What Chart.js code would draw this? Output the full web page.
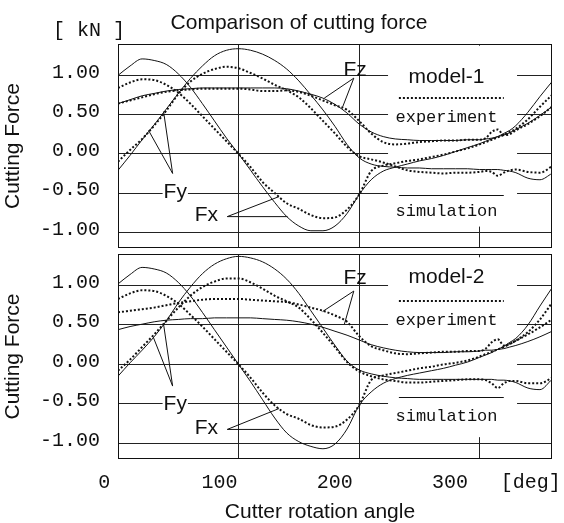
<!DOCTYPE html>
<html><head><meta charset="utf-8">
<script src="https://cdn.jsdelivr.net/npm/chart.js@4.4.1/dist/chart.umd.min.js"></script>
<style>
html,body{margin:0;padding:0;background:#fff;}
#wrap{position:relative;width:564px;height:523px;background:#fff;overflow:hidden}
#c1{position:absolute;left:0;top:0}
#c2{position:absolute;left:0;top:250px}
</style></head><body>
<div id="wrap"><canvas id="c1" width="564" height="250"></canvas><canvas id="c2" width="564" height="273"></canvas></div>
<script>
// cutter rotation angle [deg]
const angles = [0,10,20,30,40,50,60,70,80,90,100,110,120,130,140,150,160,170,180,190,200,210,220,230,240,250,260,270,280,290,300,305,310,315,320,325,330,340,350,360];

// model-1 (upper panel)
const m1FxSim = [1.00,1.12,1.21,1.19,1.14,1.02,0.85,0.64,0.42,0.20,0.00,-0.21,-0.42,-0.62,-0.80,-0.92,-0.98,-0.98,-0.92,-0.76,-0.52,-0.33,-0.22,-0.17,-0.13,-0.09,-0.06,-0.02,0.03,0.08,0.13,0.16,0.19,0.22,0.26,0.30,0.36,0.53,0.73,0.92];
const m1FxExp = [0.84,0.91,0.95,0.94,0.88,0.78,0.64,0.48,0.32,0.16,0.00,-0.17,-0.36,-0.50,-0.63,-0.70,-0.78,-0.82,-0.81,-0.71,-0.52,-0.22,-0.15,-0.12,-0.09,-0.07,-0.04,-0.01,0.03,0.07,0.12,0.15,0.18,0.21,0.24,0.28,0.32,0.44,0.60,0.75];
const m1FySim = [-0.21,-0.02,0.18,0.37,0.57,0.77,0.96,1.12,1.25,1.32,1.34,1.32,1.27,1.19,1.08,0.93,0.75,0.56,0.35,0.12,-0.05,-0.13,-0.16,-0.17,-0.18,-0.18,-0.19,-0.19,-0.19,-0.19,-0.20,-0.20,-0.20,-0.20,-0.21,-0.22,-0.24,-0.31,-0.33,-0.25];
const m1FyExp = [-0.10,0.05,0.19,0.36,0.55,0.76,0.92,1.02,1.08,1.11,1.09,1.03,0.96,0.88,0.81,0.72,0.58,0.42,0.26,0.09,-0.03,-0.07,-0.11,-0.16,-0.21,-0.23,-0.24,-0.25,-0.24,-0.24,-0.23,-0.22,-0.23,-0.28,-0.24,-0.21,-0.20,-0.23,-0.24,-0.16];
const m1FzSim = [0.64,0.69,0.74,0.77,0.80,0.82,0.83,0.84,0.84,0.84,0.84,0.84,0.84,0.84,0.83,0.80,0.76,0.71,0.63,0.52,0.38,0.28,0.22,0.19,0.18,0.17,0.17,0.17,0.17,0.18,0.18,0.19,0.20,0.22,0.24,0.27,0.31,0.39,0.49,0.60];
const m1FzExp = [0.64,0.68,0.72,0.76,0.79,0.81,0.82,0.83,0.83,0.83,0.83,0.82,0.80,0.80,0.81,0.79,0.74,0.68,0.62,0.56,0.42,0.26,0.15,0.12,0.13,0.15,0.16,0.17,0.17,0.18,0.18,0.20,0.28,0.31,0.24,0.25,0.30,0.38,0.48,0.60];

// model-2 (lower panel)
const m2FxSim = [1.02,1.14,1.23,1.21,1.16,1.04,0.87,0.66,0.44,0.22,0.00,-0.22,-0.45,-0.68,-0.87,-0.98,-1.04,-1.07,-1.01,-0.82,-0.52,-0.35,-0.24,-0.18,-0.14,-0.11,-0.08,-0.05,-0.01,0.03,0.09,0.12,0.15,0.19,0.23,0.28,0.33,0.50,0.74,0.97];
const m2FxExp = [0.83,0.90,0.94,0.93,0.87,0.77,0.63,0.48,0.32,0.16,0.00,-0.17,-0.36,-0.52,-0.63,-0.69,-0.77,-0.80,-0.79,-0.70,-0.52,-0.20,-0.14,-0.11,-0.08,-0.05,-0.03,0.00,0.02,0.05,0.10,0.13,0.16,0.19,0.22,0.26,0.30,0.41,0.57,0.78];
const m2FySim = [-0.15,0.02,0.18,0.35,0.55,0.78,0.98,1.15,1.27,1.34,1.37,1.35,1.30,1.21,1.08,0.90,0.68,0.46,0.24,0.04,-0.07,-0.12,-0.15,-0.17,-0.18,-0.19,-0.19,-0.19,-0.19,-0.19,-0.19,-0.19,-0.19,-0.20,-0.20,-0.21,-0.23,-0.30,-0.32,-0.19];
const m2FyExp = [-0.08,0.06,0.22,0.38,0.55,0.72,0.87,0.98,1.05,1.09,1.09,1.04,0.96,0.87,0.80,0.72,0.57,0.40,0.22,0.03,-0.09,-0.15,-0.19,-0.21,-0.23,-0.23,-0.22,-0.21,-0.20,-0.19,-0.19,-0.20,-0.24,-0.30,-0.24,-0.21,-0.21,-0.24,-0.24,-0.17];
const m2FzSim = [0.44,0.48,0.51,0.54,0.56,0.57,0.58,0.58,0.59,0.59,0.59,0.59,0.58,0.57,0.56,0.54,0.51,0.47,0.42,0.37,0.31,0.25,0.21,0.18,0.16,0.15,0.15,0.15,0.16,0.16,0.17,0.18,0.18,0.19,0.20,0.22,0.24,0.29,0.35,0.42];
const m2FzExp = [0.66,0.68,0.70,0.72,0.75,0.78,0.80,0.82,0.83,0.83,0.83,0.82,0.81,0.80,0.79,0.76,0.72,0.68,0.62,0.54,0.36,0.23,0.18,0.14,0.13,0.14,0.15,0.16,0.16,0.17,0.17,0.20,0.28,0.32,0.24,0.26,0.30,0.38,0.47,0.57];

// axis ticks
const yTicks = [-1, -0.5, 0, 0.5, 1];
const xGridTicks = [0, 100, 200, 300];
const xLabelTicks = [0, 100, 200, 300, 370];
const xUnitLabel = '[deg]';

const SANS = '"Liberation Sans", Arial, Helvetica, sans-serif';
const MONO = '"Liberation Mono", "Courier New", monospace';
const INK = '#111';

function pts(vals){ return vals.map((v,i)=>({x:angles[i], y:v})); }
function ds(label, vals, exp){
  return {label, data: pts(vals), borderColor: INK, borderWidth: exp ? 2 : 1,
    borderDash: exp ? [2,2] : [], pointRadius: 0, cubicInterpolationMode: 'monotone', fill: false};
}
function noPad(s){ s.paddingTop = 0; s.paddingBottom = 0; s.paddingLeft = 0; s.paddingRight = 0; }

const decor = {
  id: 'decor',
  beforeDatasetsDraw(chart, args, o){
    const {ctx, scales:{x, y}} = chart;
    const x0 = x.getPixelForValue(o.box[0]), x1 = x.getPixelForValue(o.box[1]);
    const y0 = y.getPixelForValue(o.box[2]), y1 = y.getPixelForValue(o.box[3]);
    ctx.save(); ctx.fillStyle = '#fff'; ctx.fillRect(x0, y0, x1-x0, y1-y0); ctx.restore();
  },
  afterDatasetsDraw(chart, args, o){
    const {ctx, chartArea:a, scales:{x, y}} = chart;
    const X = v => x.getPixelForValue(v), Y = v => y.getPixelForValue(v);
    ctx.save();
    ctx.strokeStyle = INK; ctx.lineWidth = 1; ctx.setLineDash([]);
    ctx.strokeRect(Math.round(a.left)+0.5, Math.round(a.top)+0.5, Math.round(a.width)-1, Math.round(a.height)-1);
    ctx.fillStyle = INK; ctx.textAlign = 'center'; ctx.textBaseline = 'middle';
    const L = o.legend;
    ctx.font = '21px ' + SANS; ctx.fillText(L.model, X(L.cx), Y(L.modelY));
    ctx.font = '17px ' + MONO;
    ctx.fillText('experiment', X(L.cx), Y(L.expY));
    ctx.fillText('simulation', X(L.cx), Y(L.simY));
    ctx.lineWidth = 2; ctx.setLineDash([2,2]);
    ctx.beginPath(); ctx.moveTo(X(L.x0), Math.round(Y(L.expLineY))); ctx.lineTo(X(L.x1), Math.round(Y(L.expLineY))); ctx.stroke();
    ctx.lineWidth = 1; ctx.setLineDash([]);
    ctx.beginPath(); ctx.moveTo(X(L.x0), Math.round(Y(L.simLineY))+0.5); ctx.lineTo(X(L.x1), Math.round(Y(L.simLineY))+0.5); ctx.stroke();
    ctx.font = '21px ' + SANS;
    for (const n of o.notes){
      const tx = X(n.at[0]), ty = Y(n.at[1]);
      if (n.bg){
        const w = ctx.measureText(n.text).width;
        ctx.fillStyle = '#fff'; ctx.fillRect(tx - w/2 - 1, ty - 9, w + 2, 18); ctx.fillStyle = INK;
      }
      ctx.fillText(n.text, tx, ty);
      ctx.beginPath();
      for (const e of n.ends){ ctx.moveTo(X(n.apex[0]), Y(n.apex[1])); ctx.lineTo(X(e[0]), Y(e[1])); }
      ctx.stroke();
    }
    ctx.restore();
  },
  afterDraw(chart, args, o){
    const ctx = chart.ctx;
    ctx.save(); ctx.fillStyle = INK; ctx.textAlign = 'center'; ctx.textBaseline = 'middle';
    if (o.head){
      ctx.font = '21px ' + SANS; ctx.fillText('Comparison of cutting force', 299, 23);
      ctx.font = '20px ' + MONO; ctx.fillText('[ kN ]', 89, 31);
    }
    if (o.xTitle){
      ctx.font = '21px ' + SANS; ctx.fillText(o.xTitle, 320, 262);
    }
    ctx.restore();
  }
};

function makeChart(id, sets, withXLabels, decorOpts, padTop, padBottom){
  const scales = {
    x: { type: 'linear', min: 0, max: 360,
      afterBuildTicks: s => { s.ticks = xGridTicks.map(v => ({value: v})); },
      afterFit: s => { s.height = 0; noPad(s); },
      ticks: { display: false }, border: { display: false },
      grid: { color: '#222', lineWidth: 1, drawTicks: false } },
    y: { type: 'linear', min: -1.2, max: 1.4,
      afterBuildTicks: s => { s.ticks = yTicks.map(v => ({value: v})); },
      afterFit: s => { s.width = 118; noPad(s); },
      border: { display: false },
      grid: { color: '#222', lineWidth: 1, drawTicks: false },
      ticks: { padding: 18, labelOffset: -3, color: INK, font: { family: MONO, size: 20 },
        callback: v => v.toFixed(2) },
      title: { display: true, text: 'Cutting Force', color: INK, font: { family: SANS, size: 21 }, padding: { top: 1, bottom: 0 } } }
  };
  if (withXLabels){
    scales.xl = { type: 'linear', position: 'bottom', min: 12, max: 388.5,
      afterBuildTicks: s => { s.ticks = xLabelTicks.map(v => ({value: v})); },
      afterFit: s => { s.height = 64; noPad(s); },
      border: { display: false }, grid: { display: false, drawTicks: false },
      ticks: { autoSkip: false, maxRotation: 0, padding: 12, color: INK, font: { family: MONO, size: 20 },
        callback: v => v === 370 ? xUnitLabel : String(v) } };
  }
  return new Chart(document.getElementById(id), {
    type: 'line',
    data: { datasets: sets },
    options: {
      responsive: false, animation: false, events: [], devicePixelRatio: 1,
      layout: { padding: { left: 0, right: 12, top: padTop, bottom: padBottom } },
      plugins: { legend: { display: false }, tooltip: { enabled: false }, decor: decorOpts },
      scales
    },
    plugins: [decor]
  });
}

makeChart('c1', [
  ds('Fx simulation', m1FxSim, false), ds('Fx experiment', m1FxExp, true),
  ds('Fy simulation', m1FySim, false), ds('Fy experiment', m1FyExp, true),
  ds('Fz simulation', m1FzSim, false), ds('Fz experiment', m1FzExp, true)
], false, {
  head: true,
  box: [224, 331, 1.378, -0.927],
  legend: { model: 'model-1', cx: 272.5, x0: 233, x1: 320, modelY: 0.98, expLineY: 0.71, expY: 0.46, simLineY: -0.52, simY: -0.74 },
  notes: [
    { text: 'Fy', at: [47.5, -0.485], bg: true, apex: [45.3, -0.25], ends: [[25.3, 0.30], [37.8, 0.54]] },
    { text: 'Fx', at: [73.3, -0.78], apex: [90.6, -0.80], ends: [[140.6, -0.80], [133.6, -0.545]] },
    { text: 'Fz', at: [196.7, 1.07], apex: [195.6, 0.965], ends: [[171.1, 0.71], [186.4, 0.60]] }
  ]
}, 44, 2);

makeChart('c2', [
  ds('Fx simulation', m2FxSim, false), ds('Fx experiment', m2FxExp, true),
  ds('Fy simulation', m2FySim, false), ds('Fy experiment', m2FyExp, true),
  ds('Fz simulation', m2FzSim, false), ds('Fz experiment', m2FzExp, true)
], true, {
  head: false,
  xTitle: 'Cutter rotation angle',
  box: [224, 331, 1.358, -0.923],
  legend: { model: 'model-2', cx: 272.5, x0: 233, x1: 320, modelY: 1.10, expLineY: 0.80, expY: 0.56, simLineY: -0.41, simY: -0.66 },
  notes: [
    { text: 'Fy', at: [47.5, -0.51], bg: true, apex: [45.3, -0.275], ends: [[29.4, 0.34], [37.8, 0.51]] },
    { text: 'Fx', at: [73.3, -0.81], apex: [90.6, -0.825], ends: [[133.6, -0.825], [133.6, -0.56]] },
    { text: 'Fz', at: [196.7, 1.09], apex: [195.6, 0.93], ends: [[169.7, 0.67], [187.8, 0.51]] }
  ]
}, 4, 0);
</script>
</body></html>
